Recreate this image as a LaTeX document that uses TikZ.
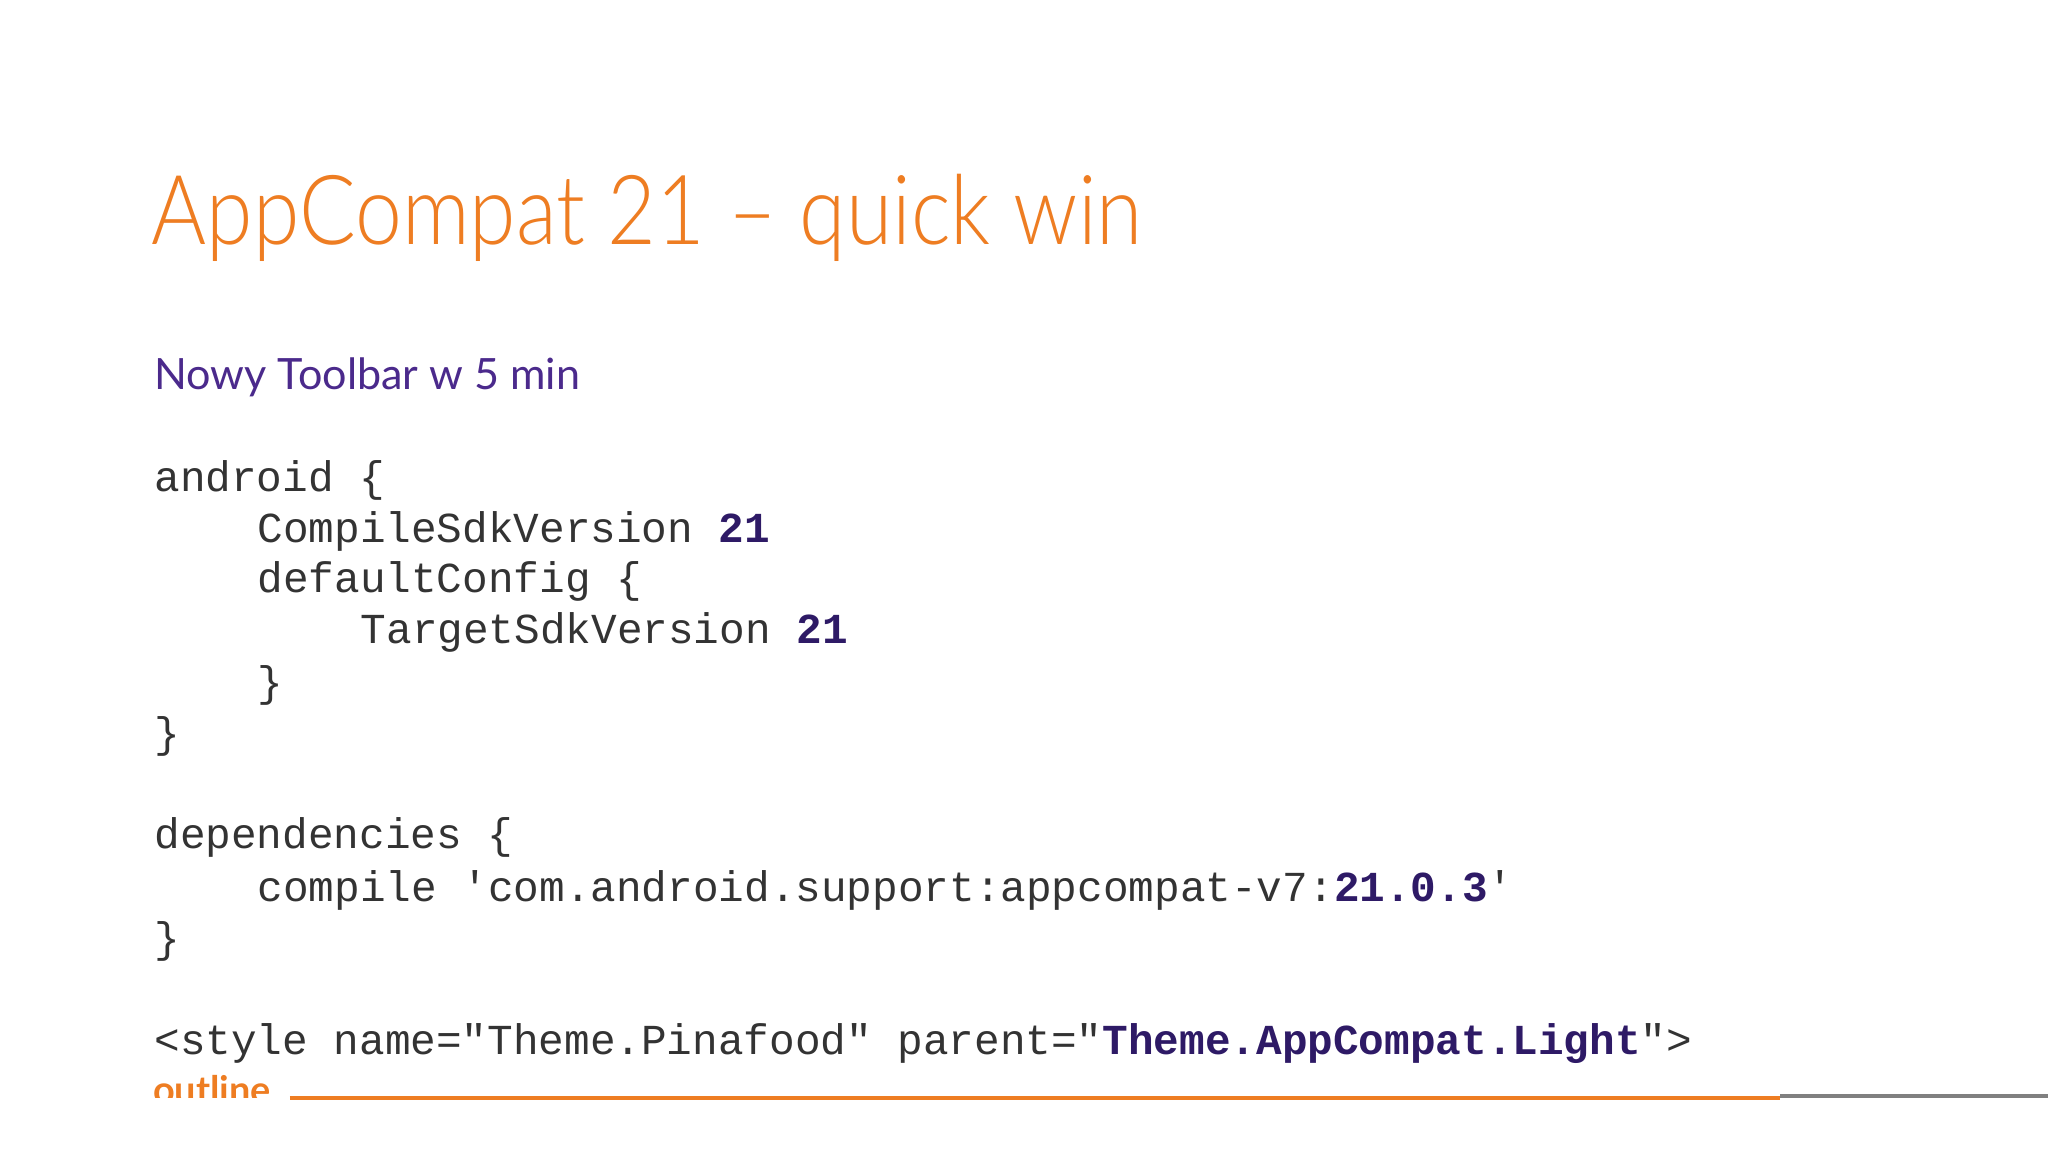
\documentclass[tikz,border=0pt]{standalone}
\usepackage{fontspec}
\setmainfont{Lato}
\newfontfamily\titlefont{Lato Light}
\newfontfamily\codefont{Liberation Mono}
\definecolor{orng}{HTML}{EE7D22}
\definecolor{purp}{HTML}{4B2A8C}
\definecolor{codec}{HTML}{333333}
\definecolor{dpurp}{HTML}{2E1A66}
\tikzset{code/.style={anchor=base west,inner sep=0pt,text=codec,font=\codefont\fontsize{32.7}{32.7}\selectfont}}
\newcommand{\hb}[1]{\textcolor{dpurp}{\textbf{#1}}}
\begin{document}
\begin{tikzpicture}[x=1pt,y=-1pt]
\useasboundingbox[fill=white] (0,0) rectangle (1568,882);
\node[anchor=base west,inner sep=0pt,text=orng,font=\titlefont\fontsize{74}{74}\selectfont] (t) at (116,187) {\scalebox{0.87}[1]{AppCompat 21 – quick win}};
\node[anchor=base west,inner sep=0pt,text=purp,font=\fontsize{33}{33}\selectfont] (s) at (118,298) {Nowy Toolbar w 5 min};
\node[code] (l1) at (118,376) {android \{};
\node[code] (l2) at (197,415) {CompileSdkVersion \hb{21}};
\node[code] (l3) at (197,454) {defaultConfig \{};
\node[code] (l4) at (276,493) {TargetSdkVersion \hb{21}};
\node[code] (l5) at (197,533) {\}};
\node[code] (l6) at (118,572) {\}};
\node[code] (l7) at (118,650) {dependencies \{};
\node[code] (l8) at (197,690) {compile 'com.android.support:appcompat-v7:\hb{21.0.3}'};
\node[code] (l9) at (118,729) {\}};
\node[code] (l10) at (118,807) {<style name="Theme.Pinafood" parent="\hb{Theme.AppCompat.Light}">};
\begin{scope}
\clip (100,800) rectangle (230,840);
\node[anchor=base west,inner sep=0pt,text=orng,font=\bfseries\fontsize{29}{29}\selectfont] (o) at (117,845) {outline};
\end{scope}
\coordinate (a) at (222,841);
\coordinate (b) at (1363,841);
\coordinate (c) at (1568,839);
\draw[orng,line width=3pt] (a) -- (b);
\draw[gray,line width=3pt] (b|-c) -- (c);
\end{tikzpicture}
\end{document}
